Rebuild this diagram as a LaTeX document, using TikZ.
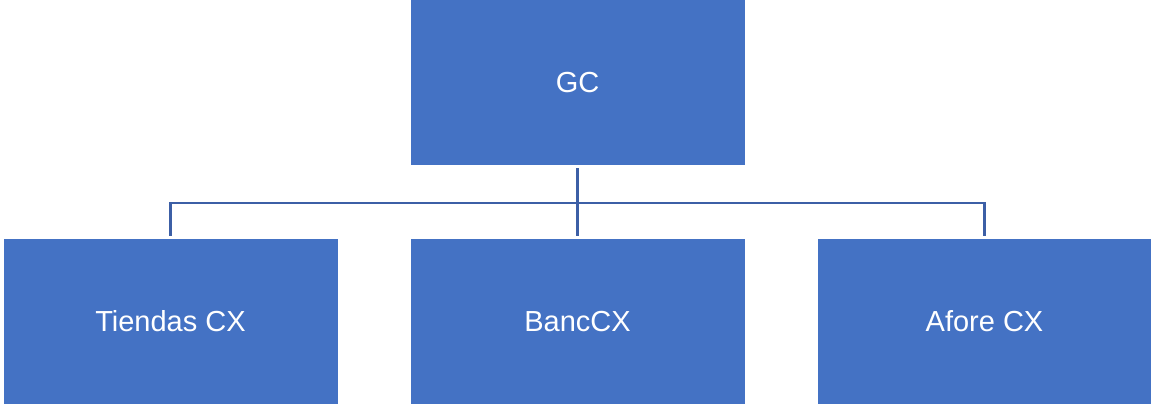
\documentclass[tikz,border=0pt]{standalone}
\usepackage{fontspec}
\setmainfont{Liberation Sans}
\definecolor{boxblue}{HTML}{4472C4}
\definecolor{lineblue}{HTML}{3C5FA6}
\begin{document}
\begin{tikzpicture}[x=1pt,y=-1pt,
  orgbox/.style={fill=boxblue, draw=none, minimum width=334pt, minimum height=165pt, inner sep=0pt,
    text=white, font=\fontsize{29}{34}\selectfont},
  conn/.style={draw=lineblue, line width=2.6pt}]
\useasboundingbox (0,0) rectangle (1151,404);
\node[orgbox] (gc) at (577.5,82.5) {GC};
\node[orgbox] (t) at (170.5,321.5) {Tiendas CX};
\node[orgbox] (b) at (577.5,321.5) {BancCX};
\node[orgbox] (a) at (984.5,321.5) {Afore CX};
\coordinate (j) at (577.5,203);
\draw[conn, shorten <=3pt, shorten >=3pt] (gc.south) -- (b.north);
\draw[conn, shorten <=3pt, shorten >=3pt] (t.north) -- (t.north |- j) -- (a.north |- j) -- (a.north);
\end{tikzpicture}
\end{document}
